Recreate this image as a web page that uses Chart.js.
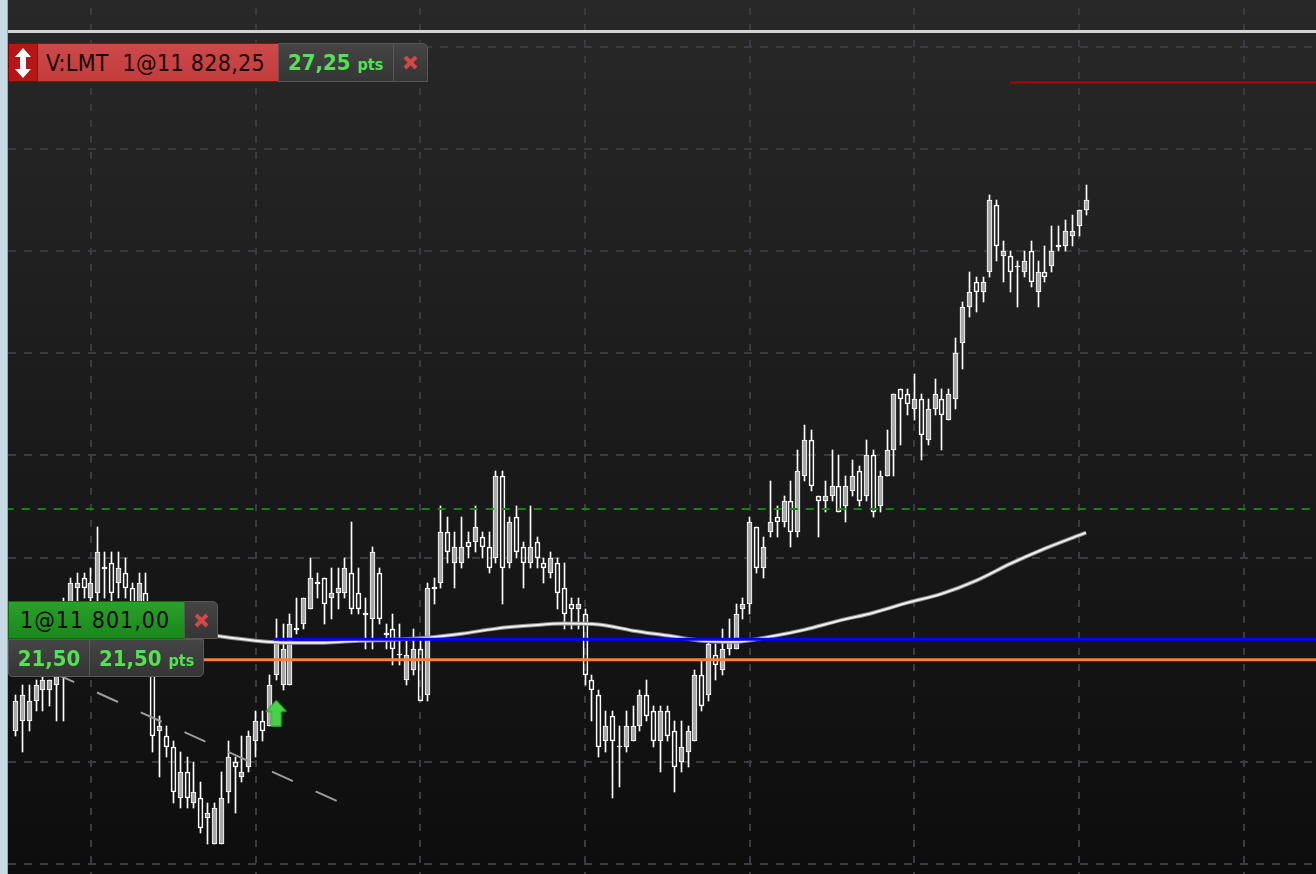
<!DOCTYPE html>
<html><head><meta charset="utf-8">
<script src="https://cdn.jsdelivr.net/npm/chart.js@4.4.1/dist/chart.umd.min.js"></script>
<style>
html,body{margin:0;padding:0;}
body{width:1316px;height:874px;overflow:hidden;position:relative;background:#1b1b1b;}
#strip{position:absolute;left:0;top:0;width:7px;height:874px;background:#c8dae4;border-right:1px solid #95abb8;}
#c{position:absolute;left:8px;top:0;}
.box{position:absolute;box-sizing:border-box;display:flex;align-items:center;font-family:"DejaVu Sans Condensed","DejaVu Sans",sans-serif;font-stretch:condensed;white-space:pre;}
.gray{background:linear-gradient(#454545,#353535);border:1px solid #575757;}
.gtxt{color:#52e252;font-weight:bold;font-size:22px;}
.pts{font-size:16px;}
</style></head>
<body>
<div id="strip"></div>
<canvas id="c" width="1308" height="874"></canvas>

<div class="box" style="left:8px;top:43px;width:30px;height:39px;background:#b51616;border:1px solid #8c0000;justify-content:center;">
<svg width="16" height="30" viewBox="0 0 16 30"><path d="M8 0 L16 9 L11 9 L11 21 L16 21 L8 30 L0 21 L5 21 L5 9 L0 9 Z" fill="#ffffff"/></svg>
</div>
<div class="box" style="left:37px;top:43px;width:242px;height:39px;background:linear-gradient(#cd4a4a,#c23c3c);border:1px solid #9c0c0c;padding-left:8px;font-size:23px;color:#150505;letter-spacing:0.3px;">V:LMT  1@11 828,25</div>
<div class="box gray" style="left:278px;top:43px;width:116px;height:39px;padding-left:9px;"><span class="gtxt">27,25 <span class="pts">pts</span></span></div>
<div class="box gray" style="left:393px;top:43px;width:35px;height:39px;justify-content:center;border-top-right-radius:5px;">
<svg width="15" height="15" viewBox="0 0 15 15"><path d="M2 2L13 13M13 2L2 13" stroke="#d54646" stroke-width="4"/></svg>
</div>

<div class="box" style="left:8px;top:601px;width:177px;height:38px;background:linear-gradient(#2aa02a,#1a881a);border:1px solid #0b6c0b;padding-left:11px;font-size:23px;color:#0a0a0a;letter-spacing:1px;">1@11 801,00</div>
<div class="box gray" style="left:184px;top:601px;width:34px;height:38px;justify-content:center;border-top-right-radius:5px;">
<svg width="15" height="15" viewBox="0 0 15 15"><path d="M2 2L13 13M13 2L2 13" stroke="#d54646" stroke-width="4"/></svg>
</div>
<div class="box gray" style="left:8px;top:639px;width:82px;height:38px;justify-content:center;border-bottom-left-radius:4px;"><span class="gtxt">21,50</span></div>
<div class="box gray" style="left:89px;top:639px;width:115px;height:38px;padding-left:9px;border-bottom-right-radius:5px;"><span class="gtxt">21,50 <span class="pts">pts</span></span></div>

<script>
// ---- data ----
const gridXTicks = [11, 35, 59, 83, 107, 131, 155, 179];
const gridYTicks = [11790, 11795, 11800, 11805, 11810, 11815, 11820, 11825, 11830];

const opens = [11796.5,11797,11797,11798,11798.5,11798.5,11798.75,11800,11802,11803.5,11804,11803,11803.25,11804.5,11804.75,11803.75,11804.25,11803.5,11802.75,11803.25,
11801,11796.5,11796.25,11795.75,11793.25,11794.5,11793,11793.25,11792.25,11791,11791,11793.5,11795,11794.25,11794.75,11796,11797,11796.75,11799.25,11798.75,
11798.75,11801.5,11801.75,11802.5,11803.75,11804,11803,11803.25,11803.25,11804.25,11803.25,11802.25,11802,11804.25,11801.25,11801.5,11800.25,11799,11799.5,11800.5,
11798.25,11803.5,11803.75,11806.25,11804.75,11804.75,11805.75,11805.75,11806,11805.5,11805,11809,11804.75,11807,11805.5,11804.75,11805.75,11804.75,11804.25,11804.75,
11803.5,11802.75,11802.5,11802.25,11799,11798.25,11796,11797.25,11795.75,11795.75,11796,11796.75,11798.25,11797.5,11796,11797.5,11796.5,11795,11795.5,11796,
11799.25,11798.25,11800.25,11799.5,11800.5,11800.5,11802.5,11802.75,11806.5,11804.5,11806.25,11807,11806.75,11807.75,11806.25,11809,11810.75,11808,11807.75,11808,
11808.5,11807.5,11808.25,11809.25,11808,11810,11807.5,11809,11810.25,11813.25,11813,11812.25,11812.75,11810.75,11812.25,11812.75,11811.75,11812.75,11815.5,11817.25,
11818.5,11818,11819,11822.25,11819.75,11819.75,11819.25,11819,11820,11818,11819,11819.25,11820.25,11820.25,11820.75,11821.25,11822];
const highs = [11798.25,11798.75,11798.75,11799,11799.5,11799,11800.5,11803,11804,11804.25,11804.25,11804.5,11806.5,11805.25,11805.25,11805.25,11805,11803.75,11804.25,11804.25,
11801.5,11797.25,11796.75,11796,11795.5,11795.25,11795,11794,11793,11793,11794.5,11796,11795.25,11796.25,11796.5,11797.5,11797.5,11799.25,11802,11801.75,
11802.25,11803,11803,11805,11804.25,11804,11804.5,11804.5,11805,11806.75,11804.5,11803,11805.5,11804.5,11801.75,11802.25,11801.75,11801,11801.5,11801,
11803.75,11804,11807.5,11807,11806.25,11807,11806.25,11807.5,11806.25,11806.25,11809.25,11809.25,11807,11807.5,11805.75,11807.5,11806,11805,11805.25,11805,
11804.75,11803,11803,11802.5,11799.25,11798.5,11797.5,11797.5,11796.75,11797.5,11797.75,11798.5,11799,11797.75,11797.75,11797.75,11797,11797,11796.75,11799.5,
11800,11801,11800.75,11801.5,11802,11802.75,11803,11807,11806.5,11806,11808.75,11807.5,11808,11808.75,11810.25,11811.5,11811.25,11808,11808.75,11810.25,
11810,11809,11809.75,11809.5,11810.75,11810.25,11809.25,11811.25,11813,11813.25,11813.25,11814,11813,11812.75,11813.75,11813.25,11813.25,11815.75,11817.5,11819,
11818.75,11818.75,11822.75,11822.5,11820.5,11820,11819.5,11820,11820.5,11819.5,11820.25,11821.25,11821.25,11821.5,11821.75,11822,11823.25];
const lows = [11796.25,11795.5,11796.5,11797.5,11797.5,11797.75,11797,11797,11801,11802.75,11803,11802.5,11802.75,11803,11802.75,11803,11803,11802.25,11802.25,11802,
11795.5,11794.25,11795.25,11793,11792.75,11792.75,11792.75,11791.5,11791,11791,11791,11793,11792.5,11794,11794.5,11795.25,11796,11796.75,11799,11798.5,
11798.75,11801.25,11801.5,11802.5,11803,11801.75,11802,11802.5,11803,11802.25,11802.25,11800.5,11800.5,11801.75,11800.5,11799.75,11799.75,11798.75,11799.25,11798,
11798,11802.75,11803.5,11804.75,11803.5,11804.5,11805,11805.25,11805,11804.25,11804.75,11802.75,11804.5,11805,11803.5,11804.5,11804.5,11803.75,11804,11802.5,
11801.5,11801.5,11801.5,11798.75,11797,11795.25,11795.5,11793.25,11793.75,11795.5,11796,11796.5,11797,11795.75,11794.5,11796,11793.5,11794.5,11794.75,11796,
11797.5,11798,11799,11799.25,11800.25,11800.5,11802,11802.25,11804.25,11804,11806,11806,11806.5,11805.5,11806,11808.75,11808.25,11806,11807.25,11807.75,
11807.25,11806.75,11808,11807.5,11807.75,11807,11807.25,11809,11809,11810.5,11812,11811.75,11809.75,11810.5,11812,11810.25,11811.75,11812.25,11814.25,11816.75,
11817,11817.5,11818.75,11819.5,11818.5,11818,11817.25,11818.75,11818.25,11817.25,11818.5,11819,11820,11820,11820.25,11820.75,11821.75];
const closes = [11798,11798.25,11798,11798.75,11799,11799,11800,11802.25,11803.75,11803.75,11803.5,11803.75,11805.25,11804.5,11803.25,11804.5,11803.5,11802.75,11803.75,11802,
11796.25,11796.75,11795.75,11793.5,11794.5,11793.25,11793.5,11791.75,11792.5,11792.75,11793.25,11795.25,11794.75,11794.5,11796.25,11797,11796.5,11798.75,11801,11800.5,
11801.75,11801.5,11803,11804,11803.75,11802.75,11803.25,11803.5,11804.5,11802.5,11802.5,11802.25,11805.25,11802,11801.25,11800.5,11800.25,11800.25,11800.5,11798,
11803.5,11803.5,11806.25,11805.25,11805.5,11805.5,11805.5,11806.5,11805.5,11804.5,11809,11804.5,11806.75,11805.25,11804.75,11805.5,11805,11804.5,11805,11803.25,
11802.25,11802.5,11802.75,11799.25,11798.5,11795.75,11796.75,11796,11795.75,11796.75,11796.75,11798.25,11797.25,11796,11797.5,11796.25,11794.75,11795.75,11796.5,11799.25,
11797.75,11800.75,11799.75,11800.5,11801,11802.25,11802.75,11806.75,11804.5,11805.5,11806.75,11806.75,11807.75,11806.25,11809.25,11810.75,11808.5,11807.75,11808,11808.5,
11807.25,11808.5,11809,11807.75,11810,11807.25,11809,11810.25,11813,11812.75,11812.5,11812.75,11811,11812.25,11813,11812,11813,11815,11817.25,11818,
11818,11818.5,11822.5,11820.25,11820,11819,11819.25,11819.5,11818.5,11819,11818.75,11820,11820.25,11821,11821,11822,11822.5];

const maIndex  = [0, 10, 20, 25, 28, 30, 35, 40, 45, 50, 55, 60, 65, 70, 75, 80, 85, 90, 95, 100, 105, 110, 115, 120, 125, 130, 135, 140, 145, 150, 156];
const maValues = [11801.25, 11801.25, 11801.25, 11801.2, 11801.23, 11801.13, 11800.93, 11800.83, 11800.83, 11800.93, 11800.98, 11801.08, 11801.27, 11801.52, 11801.67, 11801.77, 11801.72, 11801.42, 11801.18, 11800.93, 11800.88, 11801.13, 11801.47, 11801.91, 11802.3, 11802.79, 11803.23, 11803.87, 11804.7, 11805.44, 11806.22];

const trendIndex  = [-0.87, 46.85];
const trendValues = [11800.33, 11793.08];

const topLineLevel = 11830.75;
const sellLimitLevel = 11828.25;
const sellLimitStartIndex = 144.9;
const entryLevel = 11801;
const entryIndex = 38;
const stopLevel = 11800;
const greenLevel = 11807.37;
const arrowLevel = 11797.39;

const xMin = -1.093, xMax = 189.51, yMin = 11789.51, yMax = 11832.29;

// ---- derived drawing data ----
const upBodies = [], downBodies = [], upperWicks = [], lowerWicks = [];
opens.forEach((o, i) => {
  const c = closes[i];
  const top = Math.max(o, c), bot = Math.min(o, c);
  const body = (o === c) ? [o - 0.04, o + 0.04] : [bot, top];
  (c > o ? upBodies : downBodies).push({x: i, y: body});
  upperWicks.push({x: i, y: [top, highs[i]]});
  lowerWicks.push({x: i, y: [lows[i], bot]});
});
const hline = (v, from) => [{x: from, y: v}, {x: xMax + 5, y: v}];

const arrowImg = document.createElement('canvas');
arrowImg.width = 22; arrowImg.height = 27;
(() => {
  const g = arrowImg.getContext('2d');
  g.beginPath();
  g.moveTo(11, 0.5); g.lineTo(21.5, 12); g.lineTo(16, 12); g.lineTo(16, 26.5);
  g.lineTo(6, 26.5); g.lineTo(6, 12); g.lineTo(0.5, 12); g.closePath();
  g.fillStyle = '#44d444'; g.fill();
  g.strokeStyle = '#2a9a2a'; g.lineWidth = 1; g.stroke();
})();

const bgPlugin = {
  id: 'bg',
  beforeDraw(chart) {
    const ctx = chart.ctx;
    const g = ctx.createLinearGradient(0, 0, 0, chart.height);
    g.addColorStop(0, '#282828');
    g.addColorStop(1, '#0d0d0d');
    ctx.save(); ctx.fillStyle = g; ctx.fillRect(0, 0, chart.width, chart.height); ctx.restore();
  }
};
const crispPlugin = {
  id: 'crisp',
  afterDatasetsUpdate(chart) {
    chart.data.datasets.forEach((ds, di) => {
      const meta = chart.getDatasetMeta(di);
      if (meta.type !== 'bar') return;
      meta.data.forEach(el => {
        el.x = Math.floor(el.x) + 0.5;
        el.y = Math.round(el.y);
        el.base = Math.round(el.base);
      });
    });
  }
};

const gridColor = '#3a3a41';
new Chart(document.getElementById('c'), {
  type: 'bar',
  data: {
    datasets: [
      {type: 'scatter', data: [{x: entryIndex, y: arrowLevel}], pointStyle: arrowImg, pointRadius: 11, order: 1},
      {type: 'line', data: hline(topLineLevel, xMin - 5), borderColor: '#d2d2d2', borderWidth: 3, pointRadius: 0, order: 3},
      {type: 'line', data: hline(sellLimitLevel, sellLimitStartIndex), borderColor: '#b50000', borderWidth: 2, pointRadius: 0, order: 4},
      {type: 'line', data: hline(entryLevel, entryIndex - 0.36), borderColor: '#0000ff', borderWidth: 3, pointRadius: 0, order: 5},
      {type: 'line', data: hline(stopLevel, xMin - 5), borderColor: '#ff7d3c', borderWidth: 3, pointRadius: 0, order: 6},
      {type: 'line', data: hline(greenLevel, xMin - 5), borderColor: '#0a8a0a', borderWidth: 2, borderDash: [8, 8], pointRadius: 0, order: 7},
      {type: 'line', data: trendIndex.map((x, k) => ({x, y: trendValues[k]})), borderColor: '#9c9c9c', borderWidth: 2, borderDash: [23, 25], pointRadius: 0, order: 8},
      {type: 'line', data: maIndex.map((x, k) => ({x, y: maValues[k]})), borderColor: '#f0f0f0', borderWidth: 2, pointRadius: 0, cubicInterpolationMode: 'monotone', order: 9},
      {type: 'line', data: maIndex.map((x, k) => ({x, y: maValues[k]})), borderColor: '#8a8a8a', borderWidth: 4, pointRadius: 0, cubicInterpolationMode: 'monotone', order: 10},
      {data: upBodies, backgroundColor: '#a9a9a9', borderColor: '#ffffff', borderWidth: 1, borderSkipped: false, barThickness: 5, grouped: false, order: 11},
      {data: downBodies, backgroundColor: 'rgba(0,0,0,0)', borderColor: '#ffffff', borderWidth: 1, borderSkipped: false, barThickness: 5, grouped: false, order: 12},
      {data: upperWicks, backgroundColor: '#ffffff', borderWidth: 0, barThickness: 1, grouped: false, order: 13},
      {data: lowerWicks, backgroundColor: '#ffffff', borderWidth: 0, barThickness: 1, grouped: false, order: 14}
    ]
  },
  options: {
    responsive: false,
    animation: false,
    events: [],
    layout: {padding: 0, autoPadding: false},
    plugins: {legend: {display: false}, tooltip: {enabled: false}},
    scales: {
      x: {
        type: 'linear', min: xMin, max: xMax, offset: false,
        afterBuildTicks: s => { s.ticks = gridXTicks.map(v => ({value: v})); },
        ticks: {display: false},
        grid: {color: gridColor, lineWidth: 2, drawTicks: false, offset: false},
        border: {display: false, dash: [7, 9], dashOffset: 8}
      },
      y: {
        type: 'linear', min: yMin, max: yMax,
        afterBuildTicks: s => { s.ticks = gridYTicks.map(v => ({value: v})); },
        ticks: {display: false},
        grid: {color: gridColor, lineWidth: 2, drawTicks: false, offset: false},
        border: {display: false, dash: [8, 8]}
      }
    }
  },
  plugins: [bgPlugin, crispPlugin]
});
</script>
</body></html>
